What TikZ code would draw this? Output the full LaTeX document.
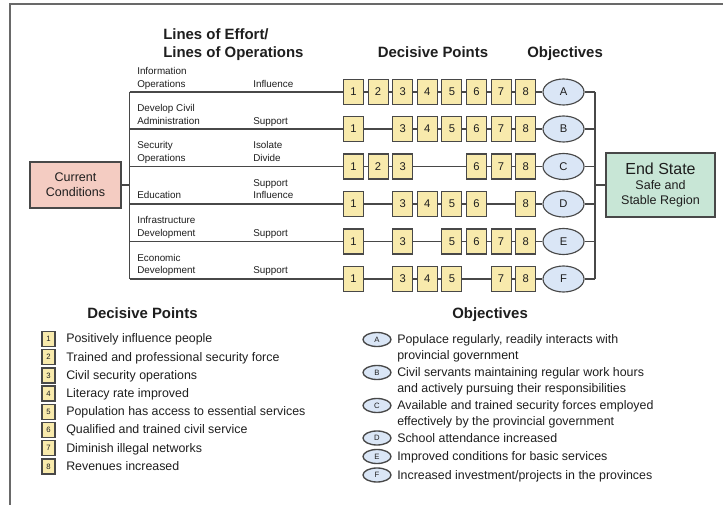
\documentclass[tikz,border=0pt]{standalone}
\usepackage{fontspec}
\setmainfont{Liberation Sans}
\usetikzlibrary{shapes.geometric}
\definecolor{dpfill}{RGB}{248,234,172}
\definecolor{objfill}{RGB}{218,230,246}
\definecolor{ccfill}{RGB}{244,204,194}
\definecolor{esfill}{RGB}{200,230,214}
\definecolor{linec}{RGB}{72,72,72}
\definecolor{framec}{RGB}{105,105,105}
\definecolor{txt}{RGB}{30,30,30}
\tikzset{
  dp/.style={draw=linec, fill=dpfill, line width=0.85pt, minimum width=15pt, minimum height=18.75pt, inner sep=0pt, text=txt, font=\fontsize{8.4}{9}\selectfont},
  obj/.style={ellipse, draw=linec, fill=objfill, line width=0.85pt, minimum width=30.75pt, minimum height=19.5pt, inner sep=0pt, text=txt, font=\fontsize{8.4}{9}\selectfont},
  ldp/.style={draw=linec, fill=dpfill, line width=1pt, minimum width=9.75pt, minimum height=11.25pt, inner sep=0pt, text=txt, font=\fontsize{5.8}{6}\selectfont},
  lobj/.style={ellipse, draw=linec, fill=objfill, line width=1pt, minimum width=21pt, minimum height=10.5pt, inner sep=0pt, text=txt, font=\fontsize{5.8}{6}\selectfont},
  conn/.style={draw=linec, line width=1.1pt},
  head/.style={anchor=base west, inner sep=0pt, text=txt, font=\fontsize{11.2}{13}\selectfont\bfseries},
  rowlab/.style={anchor=base west, inner sep=0pt, text=txt, font=\fontsize{7.4}{9}\selectfont},
  legtxt/.style={anchor=base west, inner sep=0pt, text=txt, font=\fontsize{9.3}{11}\selectfont},
}
\begin{document}
\begin{tikzpicture}[x=0.75pt,y=-0.75pt]
\useasboundingbox (0,0) rectangle (723,505);
% frame
\draw[framec, line width=1.1pt] (10,505) -- (10,4) -- (723,4);

% headings
\node[head] (h1) at (163,39.5) {Lines of Effort/};
\node[head] (h2) at (163,58) {Lines of Operations};
\node[head] (h3) at (377.5,58) {Decisive Points};
\node[head] (h4) at (527,58) {Objectives};

% trunk coordinates
\coordinate (lA) at (129.5,92);   \coordinate (rA) at (595,92);
\coordinate (lB) at (129.5,129);  \coordinate (rB) at (595,129);
\coordinate (lC) at (129.5,166.5);\coordinate (rC) at (595,166.5);
\coordinate (lD) at (129.5,204);  \coordinate (rD) at (595,204);
\coordinate (lE) at (129.5,241.5);\coordinate (rE) at (595,241.5);
\coordinate (lF) at (129.5,279);  \coordinate (rF) at (595,279);
\coordinate (lCC) at (129.5,185); \coordinate (rES) at (595,185);

% current conditions and end state
\node[draw=linec, fill=ccfill, line width=0.9pt, minimum width=68.25pt, minimum height=34.5pt, inner sep=0pt, align=center, text=txt, font=\fontsize{9.4}{11.5}\selectfont] (cc) at (75.5,185) {Current\\Conditions};
\node[draw=linec, fill=esfill, line width=0.9pt, minimum width=81.75pt, minimum height=48pt, inner sep=0pt, align=center, text=txt] (es) at (660.5,185) {{\fontsize{12}{13}\selectfont End State}\\[-1pt]{\fontsize{9.4}{11.5}\selectfont Safe and}\\[-1pt]{\fontsize{9.4}{11.5}\selectfont Stable Region}};

% row labels
\node[rowlab] (tA1) at (137,75) {Information};
\node[rowlab] (tA2) at (137,87.5) {Operations};
\node[rowlab] (tA3) at (253,88) {Influence};
\node[rowlab] (tB1) at (137,112) {Develop Civil};
\node[rowlab] (tB2) at (137,124.5) {Administration};
\node[rowlab] (tB3) at (253,124.5) {Support};
\node[rowlab] (tC1) at (137,149) {Security};
\node[rowlab] (tC2) at (137,161.5) {Operations};
\node[rowlab] (tC3) at (253,149) {Isolate};
\node[rowlab] (tC4) at (253,161.5) {Divide};
\node[rowlab] (tD1) at (137,199) {Education};
\node[rowlab] (tD2) at (253,186.5) {Support};
\node[rowlab] (tD3) at (253,199) {Influence};
\node[rowlab] (tE1) at (137,224) {Infrastructure};
\node[rowlab] (tE2) at (137,236.5) {Development};
\node[rowlab] (tE3) at (253,236.5) {Support};
\node[rowlab] (tF1) at (137,261.5) {Economic};
\node[rowlab] (tF2) at (137,274) {Development};
\node[rowlab] (tF3) at (253,274) {Support};

% decisive point boxes
\foreach \k in {1,2,3,4,5,6,7,8} \node[dp] (A\k) at ({353.5+(\k-1)*24.6},92) {\k};
\foreach \k in {1,3,4,5,6,7,8} \node[dp] (B\k) at ({353.5+(\k-1)*24.6},129) {\k};
\foreach \k in {1,2,3,6,7,8} \node[dp] (C\k) at ({353.5+(\k-1)*24.6},166.5) {\k};
\foreach \k in {1,3,4,5,6,8} \node[dp] (D\k) at ({353.5+(\k-1)*24.6},204) {\k};
\foreach \k in {1,3,5,6,7,8} \node[dp] (E\k) at ({353.5+(\k-1)*24.6},241.5) {\k};
\foreach \k in {1,3,4,5,7,8} \node[dp] (F\k) at ({353.5+(\k-1)*24.6},279) {\k};

% objectives
\node[obj] (oA) at (563.5,92) {A};
\node[obj] (oB) at (563.5,129) {B};
\node[obj] (oC) at (563.5,166.5) {C};
\node[obj] (oD) at (563.5,204) {D};
\node[obj] (oE) at (563.5,241.5) {E};
\node[obj] (oF) at (563.5,279) {F};

% connectors
\draw[conn] (lA) -- (lF);
\draw[conn] (rA) -- (rF);
\draw[conn] (cc) -- (lCC);
\draw[conn] (rES) -- (es);
\draw[conn] (lA) -- (A1) -- (A2) -- (A3) -- (A4) -- (A5) -- (A6) -- (A7) -- (A8) -- (oA) -- (rA);
\draw[conn] (lB) -- (B1) -- (B3) -- (B4) -- (B5) -- (B6) -- (B7) -- (B8) -- (oB) -- (rB);
\draw[conn] (lC) -- (C1) -- (C2) -- (C3) -- (C6) -- (C7) -- (C8) -- (oC) -- (rC);
\draw[conn] (lD) -- (D1) -- (D3) -- (D4) -- (D5) -- (D6) -- (D8) -- (oD) -- (rD);
\draw[conn] (lE) -- (E1) -- (E3) -- (E5) -- (E6) -- (E7) -- (E8) -- (oE) -- (rE);
\draw[conn] (lF) -- (F1) -- (F3) -- (F4) -- (F5) -- (F7) -- (F8) -- (oF) -- (rF);

% legend: decisive points
\node[head] (lh1) at (87,319) {Decisive Points};
\foreach \k/\t in {1/Positively influence people, 2/Trained and professional security force, 3/Civil security operations, 4/Literacy rate improved, 5/Population has access to essential services, 6/Qualified and trained civil service, 7/Diminish illegal networks, 8/Revenues increased}{
  \node[ldp] (L\k) at (48.5,{339+(\k-1)*18.2}) {\k};
  \node[legtxt] (LT\k) at (66,{342.8+(\k-1)*18.2}) {\t};
}

% legend: objectives
\node[head] (lh2) at (452,319) {Objectives};
\node[lobj] (LA) at (377,339.5) {A};
\node[lobj] (LB) at (377,372.5) {B};
\node[lobj] (LC) at (377,405.5) {C};
\node[lobj] (LD) at (377,438) {D};
\node[lobj] (LE) at (377,456.5) {E};
\node[lobj] (LF) at (377,475) {F};
\node[legtxt] (LTA1) at (397,343.5) {Populace regularly, readily interacts with};
\node[legtxt] (LTA2) at (397,359.5) {provincial government};
\node[legtxt] (LTB1) at (397,376.5) {Civil servants maintaining regular work hours};
\node[legtxt] (LTB2) at (397,392.5) {and actively pursuing their responsibilities};
\node[legtxt] (LTC1) at (397,409.5) {Available and trained security forces employed};
\node[legtxt] (LTC2) at (397,425.5) {effectively by the provincial government};
\node[legtxt] (LTD) at (397,442) {School attendance increased};
\node[legtxt] (LTE) at (397,460.5) {Improved conditions for basic services};
\node[legtxt] (LTF) at (397,479) {Increased investment/projects in the provinces};
\end{tikzpicture}
\end{document}
